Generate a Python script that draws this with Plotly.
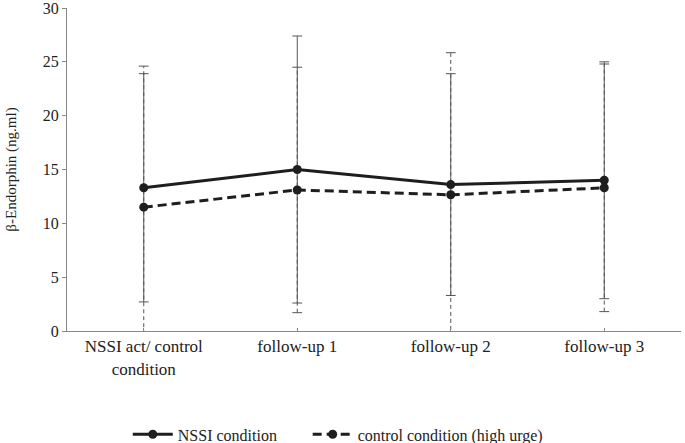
import plotly.graph_objects as go

categories = ["NSSI act/ control<br>condition", "follow-up 1", "follow-up 2", "follow-up 3"]
nssi_mean = [13.3, 15.0, 13.6, 14.0]
nssi_sd = [10.6, 12.4, 10.3, 11.0]
ctrl_mean = [11.5, 13.1, 12.65, 13.3]
ctrl_sd = [13.1, 11.4, 13.2, 11.5]
y_ticks = [0, 5, 10, 15, 20, 25, 30]

xs = list(range(len(categories)))
FONT = "Liberation Serif, Times New Roman, serif"
TXT = "#222222"

def errbar_trace(means, sds, dash):
    x, y = [], []
    for i, (m, s) in enumerate(zip(means, sds)):
        x += [i, i, None]
        y += [m - s, m + s, None]
    return go.Scatter(
        x=x, y=y, mode="lines+markers", showlegend=False, hoverinfo="skip",
        line=dict(color="#555555", width=1, dash=dash),
        marker=dict(symbol="line-ew-open", size=7, color="#555555",
                    line=dict(color="#555555", width=1)),
    )

fig = go.Figure()
fig.add_trace(errbar_trace(nssi_mean, nssi_sd, "solid"))
fig.add_trace(errbar_trace(ctrl_mean, ctrl_sd, "4px,3px"))
fig.add_trace(go.Scatter(
    x=xs, y=nssi_mean, mode="lines+markers", name="NSSI condition",
    line=dict(color="#1e1e1e", width=3),
    marker=dict(symbol="circle", size=9, color="#1e1e1e"),
    legend="legend",
))
fig.add_trace(go.Scatter(
    x=xs, y=ctrl_mean, mode="lines+markers", name="control condition (high urge)",
    line=dict(color="#1e1e1e", width=3, dash="9px,5px"),
    marker=dict(symbol="circle", size=9, color="#1e1e1e"),
    legend="legend2",
))

legend_common = dict(orientation="h", xanchor="left", y=-0.32, yanchor="middle",
                     font=dict(family=FONT, size=16, color=TXT),
                     itemwidth=40, bgcolor="rgba(0,0,0,0)")

fig.update_layout(
    width=685, height=443,
    margin=dict(l=67, r=4, t=8, b=112, autoexpand=False),
    paper_bgcolor="white", plot_bgcolor="white",
    font=dict(family=FONT, size=16, color=TXT),
    legend=dict(x=0.099, **legend_common),
    legend2=dict(x=0.392, **legend_common),
    xaxis=dict(
        range=[-0.5, 3.5], tickvals=xs, ticktext=categories, automargin=False,
        showgrid=False, zeroline=False, showline=True, linecolor="#888888", linewidth=1,
        ticks="inside", ticklen=3, tickcolor="#888888",
        tickfont=dict(family=FONT, size=17, color=TXT),
    ),
    yaxis=dict(
        range=[0, 30], tickvals=y_ticks, showgrid=False, zeroline=False, automargin=False,
        showline=True, linecolor="#888888", linewidth=1,
        ticks="outside", ticklen=4, tickcolor="#888888", ticklabeloverflow="allow",
        tickfont=dict(family=FONT, size=16, color=TXT),
        title=dict(text="β-Endorphin (ng.ml)", font=dict(family=FONT, size=15, color=TXT),
                   standoff=22),
    ),
)

fig.write_html("out.html", config={"displayModeBar": False},
               post_script="document.body.style.margin='0';")
